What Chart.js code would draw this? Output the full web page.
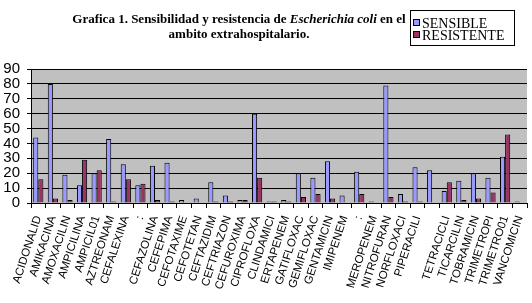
<!DOCTYPE html>
<html>
<head>
<meta charset="utf-8">
<script src="https://cdn.jsdelivr.net/npm/chart.js@4"></script>
<style>
  html, body { margin: 0; padding: 0; background: #fff; }
</style>
</head>
<body>
<canvas id="grafica" width="532" height="303"></canvas>
<script>
// datos
const categories = ['ACIDONALID', 'AMIKACINA', 'AMOXACILIN', 'AMPICILINA', 'AMPICIL01', 'AZTREONAM', 'CEFALEXINA', ':',
  'CEFAZOLINA', 'CEFEPIMA', 'CEFOTAXIME', 'CEFOTETAN', 'CEFTAZIDIM', 'CEFTRIAZON', 'CEFUROXIMA', 'CIPROFLOXA',
  'CLINDAMICI', 'ERTAPENEM', 'GATIFLOXAC', 'GEMIFLOXAC', 'GENTAMICIN', 'IMIPENEM', ':', 'MEROPENEM',
  'NITROFURAN', 'NORFLOXACI', 'PIPERACILI', '', 'TETRACICLI', 'TICARCILIN', 'TOBRAMICIN', 'TRIMETROPI',
  'TRIMETRO01', 'VANCOMICIN'];
const sensible = [44, 80, 19, 12, 20, 43, 26, 12, 25, 27, 2, 3, 14, 5, 2, 60, 1, 2, 20, 17, 28, 5, 21, 1,
  79, 6, 24, 22, 8, 15, 20, 17, 31, 1];
const resistente = [16, 3, 2, 29, 22, 1, 16, 13, 2, 1, 0, 0, 1, 1, 2, 17, 1, 1, 4, 6, 3, 0, 6, 0,
  4, 1, 1, 0, 14, 2, 3, 7, 46, 0];
const seriesNames = ['SENSIBLE', 'RESISTENTE'];
const seriesColors = ['#9999FF', '#993366'];
const yMax = 90;
const yStep = 10;

// fondo gris del area de trazado
const plotBg = {
  id: 'plotBg',
  beforeDraw(chart) {
    const a = chart.chartArea, ctx = chart.ctx;
    ctx.save();
    ctx.fillStyle = '#C0C0C0';
    ctx.fillRect(a.left, a.top, a.right - a.left, a.bottom - a.top);
    ctx.restore();
  }
};

// titulo con parte en cursiva
const titulo = {
  id: 'titulo',
  afterDraw(chart) {
    const ctx = chart.ctx;
    const cx = 239;
    const parts = [
      ['Grafica 1. Sensibilidad y resistencia de ', 'bold 13px "Liberation Serif"'],
      ['Escherichia coli', 'italic bold 13px "Liberation Serif"'],
      [' en el', 'bold 13px "Liberation Serif"']
    ];
    ctx.save();
    ctx.fillStyle = '#000';
    ctx.textBaseline = 'alphabetic';
    ctx.textAlign = 'left';
    let total = 0;
    parts.forEach(p => { ctx.font = p[1]; total += ctx.measureText(p[0]).width; });
    let x = cx - total / 2;
    parts.forEach(p => {
      ctx.font = p[1];
      ctx.fillText(p[0], x, 23);
      x += ctx.measureText(p[0]).width;
    });
    ctx.font = 'bold 13px "Liberation Serif"';
    ctx.textAlign = 'center';
    ctx.fillText('ambito extrahospitalario.', cx, 38);
    ctx.restore();
  }
};

// leyenda con recuadro
const leyenda = {
  id: 'leyenda',
  afterDraw(chart) {
    const ctx = chart.ctx;
    ctx.save();
    ctx.fillStyle = '#fff';
    ctx.fillRect(410, 10, 104, 35);
    ctx.strokeStyle = '#000';
    ctx.lineWidth = 1;
    ctx.strokeRect(410.5, 10.5, 104, 35);
    ctx.font = '14px "Liberation Serif"';
    ctx.textBaseline = 'alphabetic';
    seriesNames.forEach((name, i) => {
      const y = 28 + i * 12;
      ctx.fillStyle = seriesColors[i];
      ctx.fillRect(414, y - 8, 5, 5);
      ctx.strokeStyle = '#000';
      ctx.strokeRect(413.5, y - 8.5, 6, 6);
      ctx.fillStyle = '#000';
      ctx.fillText(name, 422, y);
    });
    ctx.restore();
  }
};

new Chart(document.getElementById('grafica'), {
  type: 'bar',
  data: {
    labels: categories,
    datasets: [{
      label: seriesNames[0],
      data: sensible,
      backgroundColor: seriesColors[0],
      borderColor: '#000',
      borderWidth: 1,
      borderSkipped: 'bottom'
    }, {
      label: seriesNames[1],
      data: resistente,
      backgroundColor: seriesColors[1],
      borderColor: '#000',
      borderWidth: 1,
      borderSkipped: 'bottom'
    }]
  },
  options: {
    responsive: false,
    animation: false,
    layout: { padding: { top: 69, right: 5, left: 0, bottom: 0 } },
    datasets: { bar: { categoryPercentage: 0.7, barPercentage: 1.0 } },
    plugins: {
      legend: { display: false },
      title: { display: false },
      tooltip: { enabled: false }
    },
    scales: {
      x: {
        grid: { display: true, drawOnChartArea: false, drawTicks: true, tickLength: 5, color: '#000', offset: true },
        border: { color: '#000' },
        ticks: {
          autoSkip: false,
          maxRotation: 72,
          minRotation: 72,
          padding: 6,
          color: '#000',
          font: { family: '"Liberation Sans"', size: 11.5 }
        },
        afterFit(scale) {
          scale.height = 100;
          scale.paddingLeft = 0;
          scale.paddingRight = 0;
        }
      },
      y: {
        min: 0,
        max: yMax,
        ticks: {
          stepSize: yStep,
          autoSkip: false,
          padding: 7,
          color: '#000',
          font: { family: '"Liberation Sans"', size: 15 }
        },
        grid: { color: '#000', tickLength: 4 },
        border: { color: '#000' },
        afterFit(scale) {
          scale.width = 31;
        }
      }
    }
  },
  plugins: [plotBg, titulo, leyenda]
});
</script>
</body>
</html>
